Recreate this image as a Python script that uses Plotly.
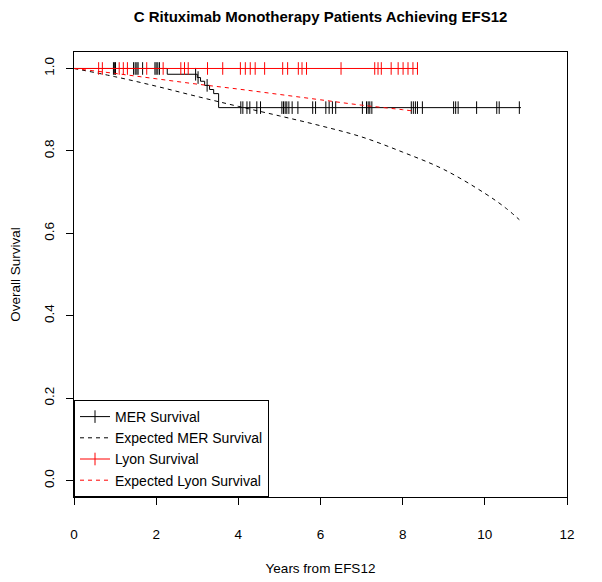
import numpy as np
import plotly.graph_objects as go

# ---------------- data ----------------
# MER Kaplan-Meier: event times and survival after each event
mer_times = [0.0, 2.27, 3.00, 3.08, 3.18, 3.30, 3.40, 3.52]
mer_surv = [1.0, 0.986, 0.978, 0.969, 0.959, 0.949, 0.939, 0.905]
mer_last = 10.88
mer_censor = [0.96, 0.99, 1.01, 1.45, 1.49, 1.53, 1.56, 1.67, 1.97, 2.00, 2.04, 2.08,
              2.96, 3.02, 3.24,
              4.06, 4.11, 4.21, 4.28, 4.45, 4.54, 5.06, 5.10, 5.14, 5.18, 5.23, 5.31,
              5.45, 5.81, 5.88, 6.13, 6.21, 6.29, 6.37, 7.02, 7.12, 7.16, 7.20, 7.25,
              8.21, 8.26, 8.31, 8.36, 8.48, 9.24, 9.29, 9.35, 9.80, 10.29, 10.35, 10.84]

# Lyon Kaplan-Meier: no events
lyon_times = [0.0]
lyon_surv = [1.0]
lyon_last = 8.36
lyon_censor = [0.60, 0.69, 1.10, 1.20, 1.30, 1.77, 2.17, 2.60, 2.69, 2.78, 3.25, 3.62,
               4.05, 4.17, 4.29, 4.41, 4.64, 5.08, 5.20, 5.46, 5.55, 5.66, 6.50,
               7.32, 7.40, 7.48, 7.72, 7.89, 8.01, 8.13, 8.25, 8.36]

# Expected survival curves
exp_mer_t = [0, 1, 2, 3, 4, 5, 6, 7, 8, 9, 10, 10.5, 10.84]
exp_mer_s = [1.0, 0.980, 0.957, 0.932, 0.908, 0.885, 0.861, 0.834, 0.797, 0.755, 0.697, 0.662, 0.633]
exp_lyon_t = [0, 1, 2, 3, 4, 5, 6, 7, 8, 8.24]
exp_lyon_s = [1.0, 0.988, 0.975, 0.962, 0.950, 0.937, 0.924, 0.911, 0.900, 0.897]

x_ticks = [0, 2, 4, 6, 8, 10, 12]
y_ticks = [0.0, 0.2, 0.4, 0.6, 0.8, 1.0]

FONT = "Liberation Sans, Arial, Helvetica, sans-serif"
DASH = "4px,4px"

# page body has an 8px margin, so the figure is 8px smaller than the window
W, H = 594, 574


def step_xy(times, surv, last):
    xs = list(times) + [last]
    ys = list(surv) + [surv[-1]]
    return xs, ys


def censor_xy(times, surv, ctimes):
    idx = np.searchsorted(np.array(times), np.array(ctimes), side="right") - 1
    ys = [surv[i] for i in idx]
    gx, gy = [], []
    for x, y in zip(ctimes, ys):
        gx += [x, None]
        gy += [y, None]
    return gx, gy


fig = go.Figure()

# MER survival
sx, sy = step_xy(mer_times, mer_surv, mer_last)
fig.add_trace(go.Scatter(x=sx, y=sy, mode="lines", line=dict(color="black", width=1, shape="hv"),
                         showlegend=False, hoverinfo="skip"))
cx, cy = censor_xy(mer_times, mer_surv, mer_censor)
fig.add_trace(go.Scatter(x=cx, y=cy, mode="lines+markers", name="MER Survival",
                         connectgaps=False,
                         line=dict(color="black", width=1),
                         marker=dict(symbol="line-ns", size=9, color="black",
                                     line=dict(color="black", width=1)),
                         legendrank=1))

# Expected MER
fig.add_trace(go.Scatter(x=exp_mer_t, y=exp_mer_s, mode="lines", name="Expected MER Survival",
                         line=dict(color="black", width=1, dash=DASH, shape="spline", smoothing=1.0),
                         legendrank=2))

# Lyon survival
sx, sy = step_xy(lyon_times, lyon_surv, lyon_last)
fig.add_trace(go.Scatter(x=sx, y=sy, mode="lines", line=dict(color="#ff0000", width=1, shape="hv"),
                         showlegend=False, hoverinfo="skip"))
cx, cy = censor_xy(lyon_times, lyon_surv, lyon_censor)
fig.add_trace(go.Scatter(x=cx, y=cy, mode="lines+markers", name="Lyon Survival",
                         connectgaps=False,
                         line=dict(color="#ff0000", width=1),
                         marker=dict(symbol="line-ns", size=9, color="#ff0000",
                                     line=dict(color="#ff0000", width=1)),
                         legendrank=3))

# Expected Lyon
fig.add_trace(go.Scatter(x=exp_lyon_t, y=exp_lyon_s, mode="lines", name="Expected Lyon Survival",
                         line=dict(color="#ff0000", width=1, dash=DASH, shape="spline", smoothing=1.0),
                         legendrank=4))

fig.update_layout(
    width=W, height=H,
    margin=dict(l=66, r=35, t=44, b=85, autoexpand=False),
    paper_bgcolor="white", plot_bgcolor="white",
    font=dict(family=FONT, size=13.5, color="black"),
    title=dict(text="<b>C Rituximab Monotherapy Patients Achieving EFS12</b>",
               x=312.5 / W, xanchor="center",
               y=1 - 9 / H, yanchor="middle",
               font=dict(family=FONT, size=15, color="black")),
    legend=dict(x=0, y=0, xanchor="left", yanchor="bottom",
                bgcolor="white", bordercolor="black", borderwidth=1,
                font=dict(family=FONT, size=14, color="black"),
                tracegroupgap=0, itemwidth=30),
    showlegend=True,
)

fig.update_xaxes(range=[0, 12], tickvals=x_ticks, ticktext=[str(v) for v in x_ticks],
                 showgrid=False, zeroline=False, automargin=False,
                 showline=True, linecolor="black", linewidth=1, mirror=True,
                 ticks="outside", ticklen=7, tickcolor="black", tickwidth=1,
                 ticklabelstandoff=18,
                 title=dict(text="Years from EFS12", standoff=22, font=dict(size=13.5)))
fig.update_yaxes(range=[-0.04, 1.04], tickvals=y_ticks, ticktext=[f"{v:.1f}" for v in y_ticks],
                 tickangle=-90,
                 showgrid=False, zeroline=False, automargin=False,
                 showline=True, linecolor="black", linewidth=1, mirror=True,
                 ticks="outside", ticklen=7, tickcolor="black", tickwidth=1,
                 ticklabelstandoff=7,
                 title=dict(text="Overall Survival", standoff=17, font=dict(size=13.5)))

fig.write_html("out.html")
